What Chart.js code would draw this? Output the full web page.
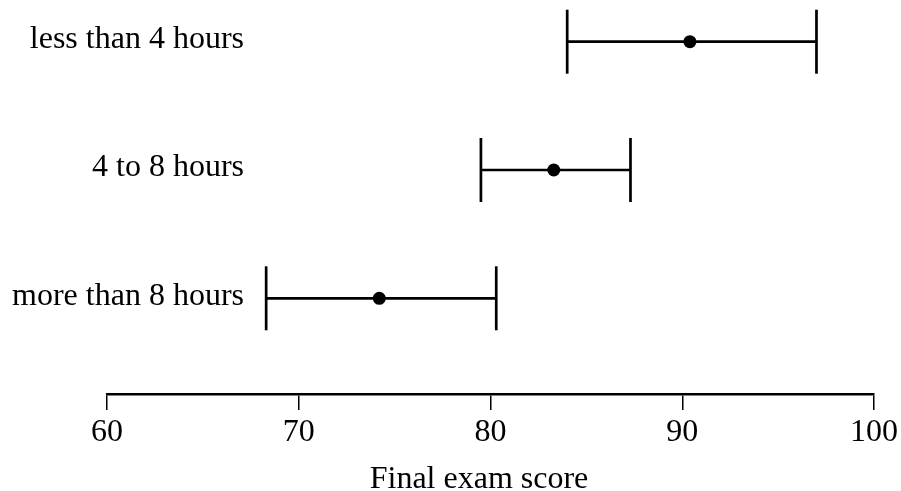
<!DOCTYPE html>
<html>
<head>
<meta charset="utf-8">
<script src="https://cdn.jsdelivr.net/npm/chart.js@4/dist/chart.umd.min.js"></script>
<style>
  html, body { margin:0; padding:0; background:#fff; }
  #wrap { width:901px; height:491px; }
</style>
</head>
<body>
<div id="wrap"><canvas id="chart" width="901" height="491"></canvas></div>
<script>
// data
const groups = ["less than 4 hours", "4 to 8 hours", "more than 8 hours"];
const means  = [90.4, 83.3, 74.2];
const lower  = [84.0, 79.5, 68.3];
const upper  = [97.0, 87.3, 80.3];
const xTicks = [60, 70, 80, 90, 100];
const xTitle = "Final exam score";

const FONT = "'Liberation Serif', 'Times New Roman', serif";

// one dataset per interval, caps drawn as rotated line points
const barSets = groups.map((g, i) => ({
  label: g,
  data: [{x: lower[i], y: i}, {x: upper[i], y: i}],
  showLine: true,
  borderColor: "#000",
  borderWidth: 2.7,
  pointStyle: "line",
  rotation: 90,
  pointRadius: 32,
  pointHoverRadius: 32,
  pointBorderColor: "#000",
  pointBorderWidth: 2.7
}));

const meanSet = {
  label: "mean",
  data: means.map((m, i) => ({x: m, y: i})),
  showLine: false,
  pointStyle: "circle",
  pointRadius: 6.5,
  pointBackgroundColor: "#000",
  pointBorderColor: "#000",
  pointBorderWidth: 0
};

// group names on the left + x title
const labelPlugin = {
  id: "labels",
  afterDraw(chart) {
    const ctx = chart.ctx;
    const ys = chart.scales.y, xs = chart.scales.x;
    ctx.save();
    ctx.fillStyle = "#000";
    ctx.font = "32px " + FONT;
    ctx.textAlign = "right";
    ctx.textBaseline = "alphabetic";
    groups.forEach((g, i) => {
      ctx.fillText(g, 244, ys.getPixelForValue(i) + 6.5);
    });
    ctx.textAlign = "center";
    ctx.fillText(xTitle, (xs.left + xs.right) / 2 - 11.5, 488);
    ctx.restore();
  }
};

new Chart(document.getElementById("chart"), {
  type: "scatter",
  data: { datasets: [...barSets, meanSet] },
  options: {
    responsive: false,
    animation: false,
    layout: { autoPadding: false, padding: { left: 107, right: 26, top: 0, bottom: 0 } },
    plugins: { legend: { display: false }, tooltip: { enabled: false } },
    scales: {
      x: {
        type: "linear",
        min: 60, max: 100,
        afterBuildTicks: s => { s.ticks = xTicks.map(v => ({value: v})); },
        afterFit: s => { s.height = 97; },
        ticks: { color: "#000", font: { family: FONT, size: 32 }, padding: 3, maxRotation: 0 },
        grid: { drawOnChartArea: false, drawTicks: true, tickLength: 16, color: "#000", lineWidth: 1.5 },
        border: { display: true, color: "#000", width: 2.5 }
      },
      y: {
        type: "linear",
        display: false,
        reverse: true,
        min: -0.325, max: 2.746
      }
    }
  },
  plugins: [labelPlugin]
});
</script>
</body>
</html>
